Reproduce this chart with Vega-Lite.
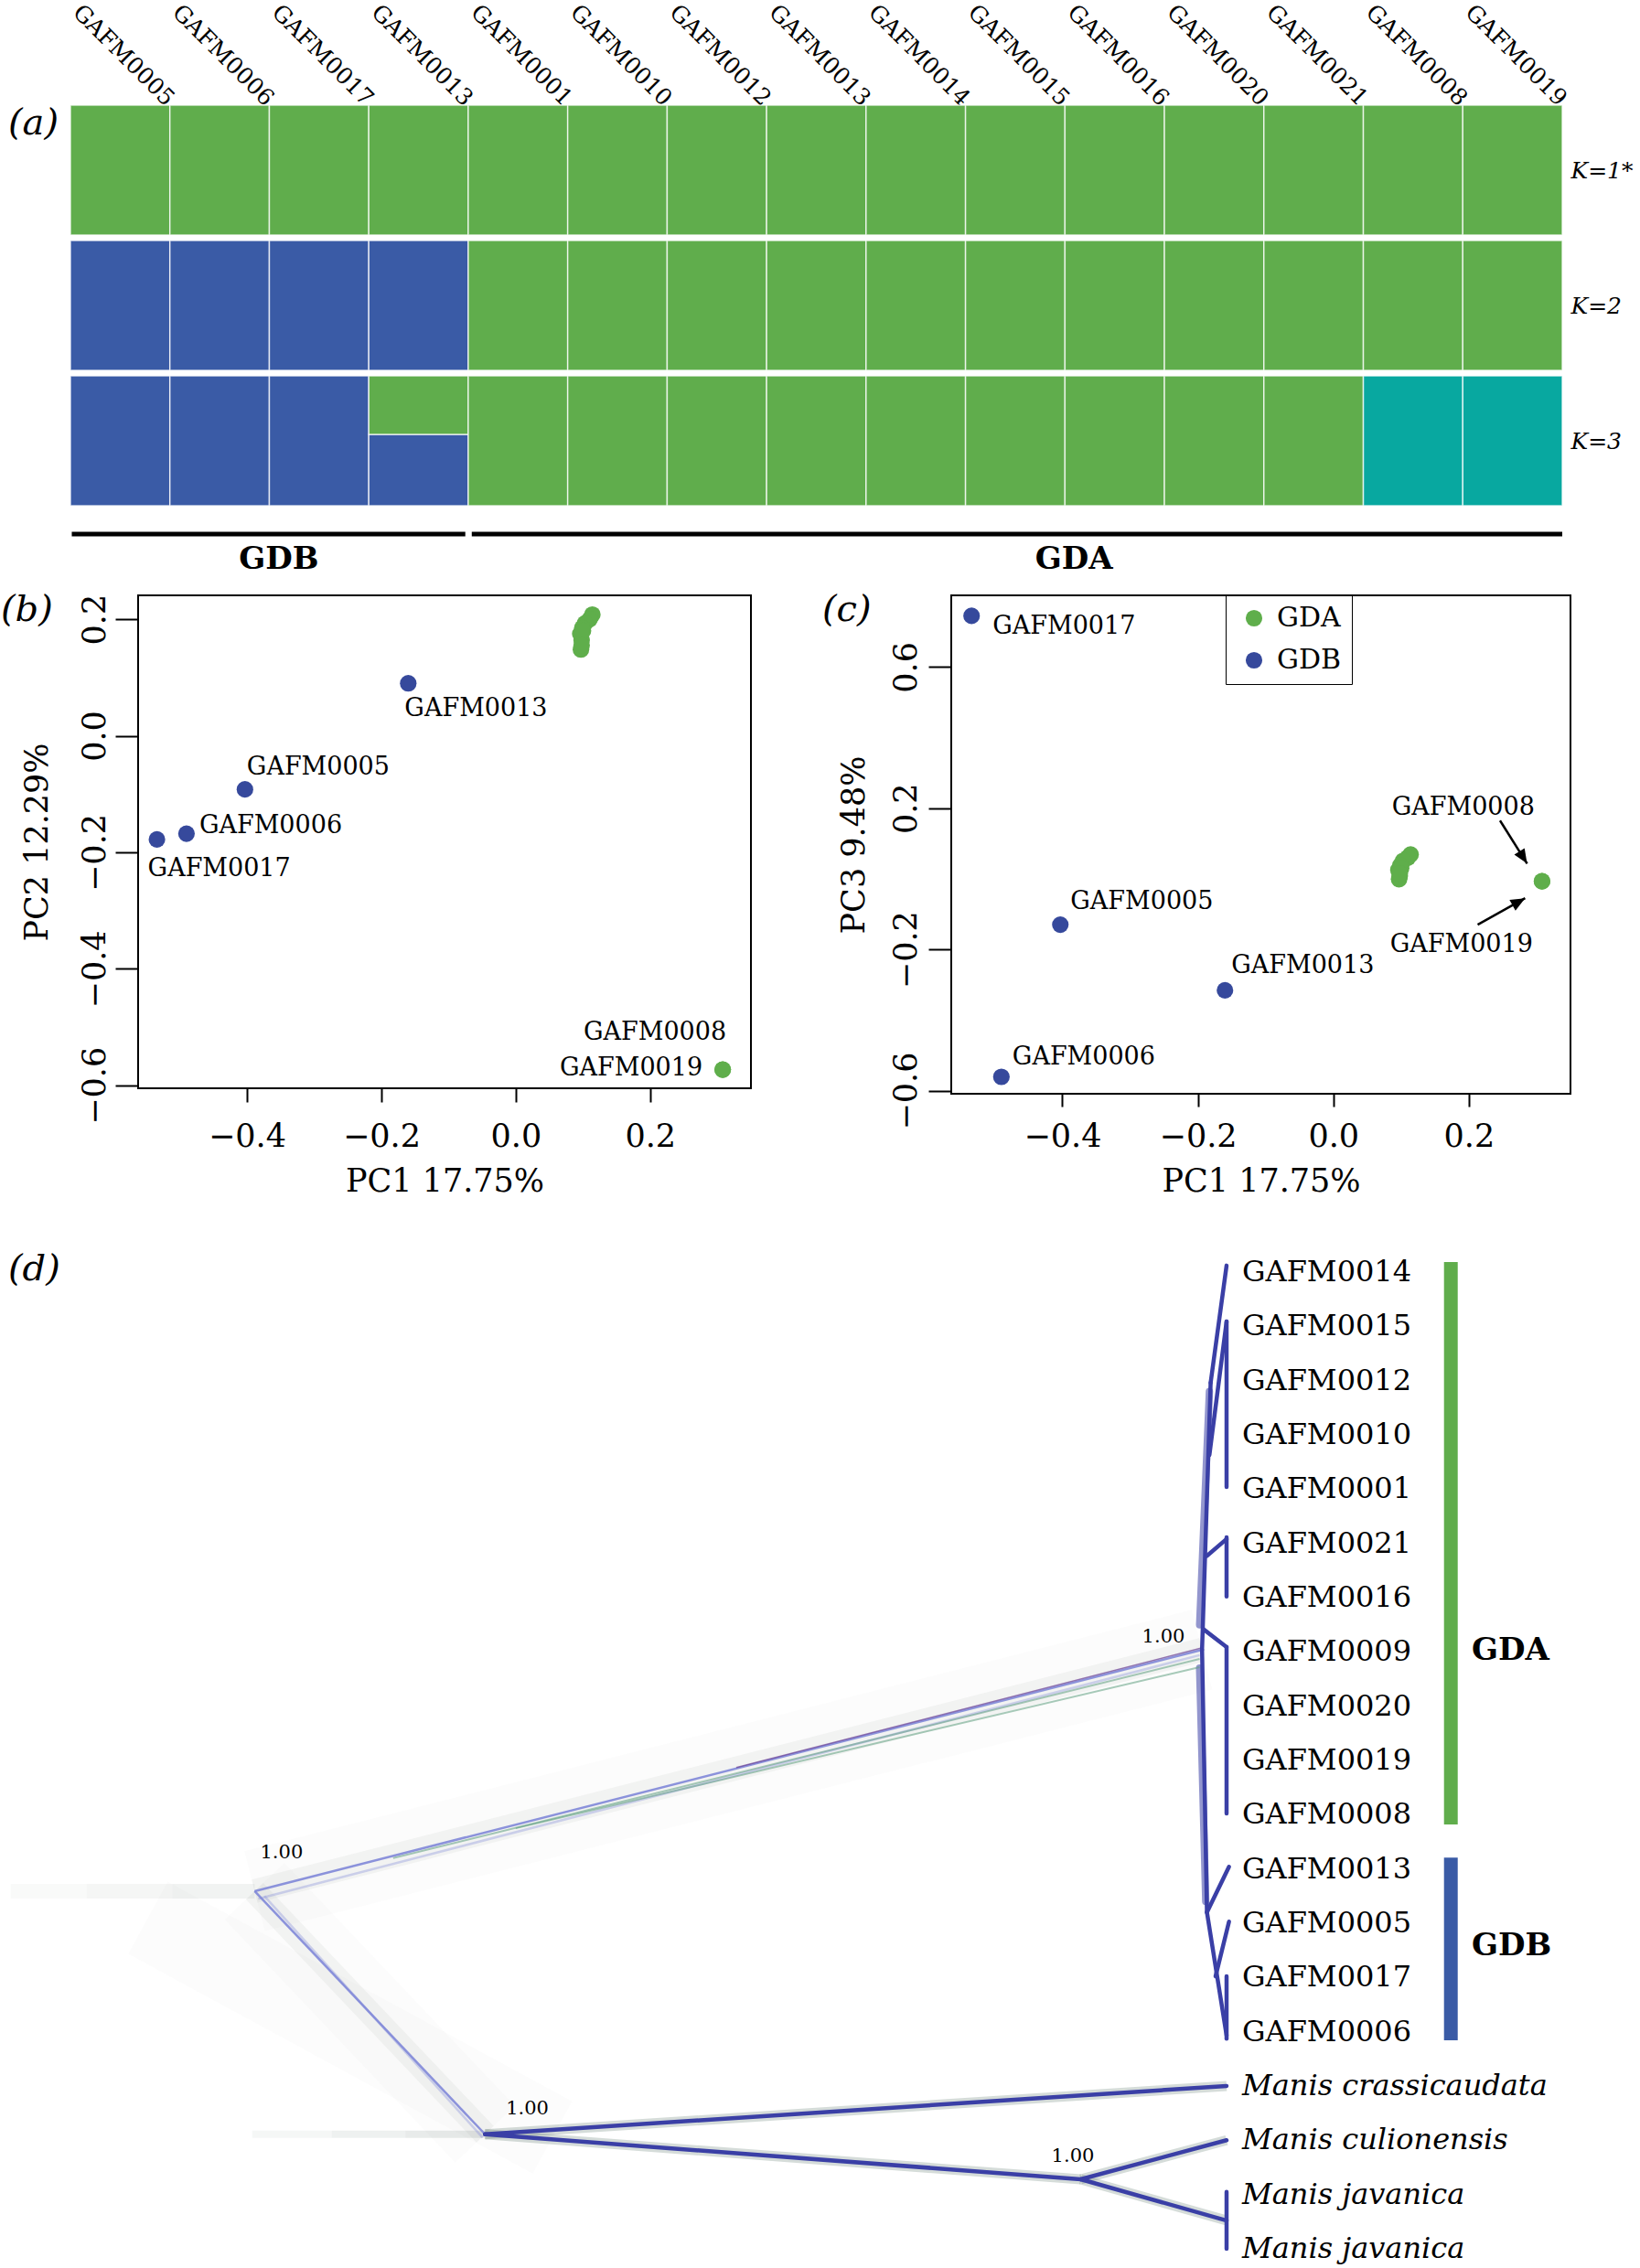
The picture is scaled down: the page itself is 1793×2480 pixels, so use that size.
{
  "$schema": "https://vega.github.io/schema/vega-lite/v6.json",
  "padding": 0,
  "background": "white",
  "spacing": 12,
  "resolve": {"scale": {"color": "independent"}},
  "config": {
    "view": {"stroke": null},
    "font": "DejaVu Serif",
    "axis": {"labelColor": "black", "titleColor": "black", "tickColor": "black", "domainColor": "black", "grid": false, "labelFont": "DejaVu Serif", "titleFont": "DejaVu Serif", "titleFontWeight": "normal"},
    "title": {"font": "DejaVu Serif", "fontStyle": "italic", "fontWeight": "normal", "fontSize": 40, "color": "black", "anchor": "start", "frame": "group", "offset": 0, "baseline": "top"},
    "legend": {"labelFont": "DejaVu Serif", "labelColor": "black"}
  },
  "datasets": {
    "structure": [
      {"K": "K=1*", "col": 1, "sample": "GAFM0005", "cluster": "Cluster 2", "q": 1},
      {"K": "K=1*", "col": 2, "sample": "GAFM0006", "cluster": "Cluster 2", "q": 1},
      {"K": "K=1*", "col": 3, "sample": "GAFM0017", "cluster": "Cluster 2", "q": 1},
      {"K": "K=1*", "col": 4, "sample": "GAFM0013", "cluster": "Cluster 2", "q": 1},
      {"K": "K=1*", "col": 5, "sample": "GAFM0001", "cluster": "Cluster 2", "q": 1},
      {"K": "K=1*", "col": 6, "sample": "GAFM0010", "cluster": "Cluster 2", "q": 1},
      {"K": "K=1*", "col": 7, "sample": "GAFM0012", "cluster": "Cluster 2", "q": 1},
      {"K": "K=1*", "col": 8, "sample": "GAFM0013", "cluster": "Cluster 2", "q": 1},
      {"K": "K=1*", "col": 9, "sample": "GAFM0014", "cluster": "Cluster 2", "q": 1},
      {"K": "K=1*", "col": 10, "sample": "GAFM0015", "cluster": "Cluster 2", "q": 1},
      {"K": "K=1*", "col": 11, "sample": "GAFM0016", "cluster": "Cluster 2", "q": 1},
      {"K": "K=1*", "col": 12, "sample": "GAFM0020", "cluster": "Cluster 2", "q": 1},
      {"K": "K=1*", "col": 13, "sample": "GAFM0021", "cluster": "Cluster 2", "q": 1},
      {"K": "K=1*", "col": 14, "sample": "GAFM0008", "cluster": "Cluster 2", "q": 1},
      {"K": "K=1*", "col": 15, "sample": "GAFM0019", "cluster": "Cluster 2", "q": 1},
      {"K": "K=2", "col": 1, "sample": "GAFM0005", "cluster": "Cluster 1", "q": 1},
      {"K": "K=2", "col": 2, "sample": "GAFM0006", "cluster": "Cluster 1", "q": 1},
      {"K": "K=2", "col": 3, "sample": "GAFM0017", "cluster": "Cluster 1", "q": 1},
      {"K": "K=2", "col": 4, "sample": "GAFM0013", "cluster": "Cluster 1", "q": 1},
      {"K": "K=2", "col": 5, "sample": "GAFM0001", "cluster": "Cluster 2", "q": 1},
      {"K": "K=2", "col": 6, "sample": "GAFM0010", "cluster": "Cluster 2", "q": 1},
      {"K": "K=2", "col": 7, "sample": "GAFM0012", "cluster": "Cluster 2", "q": 1},
      {"K": "K=2", "col": 8, "sample": "GAFM0013", "cluster": "Cluster 2", "q": 1},
      {"K": "K=2", "col": 9, "sample": "GAFM0014", "cluster": "Cluster 2", "q": 1},
      {"K": "K=2", "col": 10, "sample": "GAFM0015", "cluster": "Cluster 2", "q": 1},
      {"K": "K=2", "col": 11, "sample": "GAFM0016", "cluster": "Cluster 2", "q": 1},
      {"K": "K=2", "col": 12, "sample": "GAFM0020", "cluster": "Cluster 2", "q": 1},
      {"K": "K=2", "col": 13, "sample": "GAFM0021", "cluster": "Cluster 2", "q": 1},
      {"K": "K=2", "col": 14, "sample": "GAFM0008", "cluster": "Cluster 2", "q": 1},
      {"K": "K=2", "col": 15, "sample": "GAFM0019", "cluster": "Cluster 2", "q": 1},
      {"K": "K=3", "col": 1, "sample": "GAFM0005", "cluster": "Cluster 1", "q": 1},
      {"K": "K=3", "col": 2, "sample": "GAFM0006", "cluster": "Cluster 1", "q": 1},
      {"K": "K=3", "col": 3, "sample": "GAFM0017", "cluster": "Cluster 1", "q": 1},
      {"K": "K=3", "col": 4, "sample": "GAFM0013", "cluster": "Cluster 1", "q": 0.55},
      {"K": "K=3", "col": 4, "sample": "GAFM0013", "cluster": "Cluster 2", "q": 0.45},
      {"K": "K=3", "col": 5, "sample": "GAFM0001", "cluster": "Cluster 2", "q": 1},
      {"K": "K=3", "col": 6, "sample": "GAFM0010", "cluster": "Cluster 2", "q": 1},
      {"K": "K=3", "col": 7, "sample": "GAFM0012", "cluster": "Cluster 2", "q": 1},
      {"K": "K=3", "col": 8, "sample": "GAFM0013", "cluster": "Cluster 2", "q": 1},
      {"K": "K=3", "col": 9, "sample": "GAFM0014", "cluster": "Cluster 2", "q": 1},
      {"K": "K=3", "col": 10, "sample": "GAFM0015", "cluster": "Cluster 2", "q": 1},
      {"K": "K=3", "col": 11, "sample": "GAFM0016", "cluster": "Cluster 2", "q": 1},
      {"K": "K=3", "col": 12, "sample": "GAFM0020", "cluster": "Cluster 2", "q": 1},
      {"K": "K=3", "col": 13, "sample": "GAFM0021", "cluster": "Cluster 2", "q": 1},
      {"K": "K=3", "col": 14, "sample": "GAFM0008", "cluster": "Cluster 3", "q": 1},
      {"K": "K=3", "col": 15, "sample": "GAFM0019", "cluster": "Cluster 3", "q": 1}
    ],
    "pca": [
      {"id": "GAFM0005", "group": "GDB", "pc1": -0.403, "pc2": -0.092, "pc3": -0.130},
      {"id": "GAFM0006", "group": "GDB", "pc1": -0.490, "pc2": -0.168, "pc3": -0.561},
      {"id": "GAFM0017", "group": "GDB", "pc1": -0.534, "pc2": -0.178, "pc3": 0.745},
      {"id": "GAFM0013", "group": "GDB", "pc1": -0.160, "pc2": 0.090, "pc3": -0.316},
      {"id": "GAFM0008", "group": "GDA", "pc1": 0.308, "pc2": -0.573, "pc3": -0.007},
      {"id": "GAFM0019", "group": "GDA", "pc1": 0.308, "pc2": -0.573, "pc3": -0.007},
      {"id": "GAFM0001", "group": "GDA", "pc1": 0.114, "pc2": 0.208, "pc3": 0.069},
      {"id": "GAFM0010", "group": "GDA", "pc1": 0.110, "pc2": 0.200, "pc3": 0.060},
      {"id": "GAFM0012", "group": "GDA", "pc1": 0.103, "pc2": 0.193, "pc3": 0.051},
      {"id": "GAFM0009", "group": "GDA", "pc1": 0.099, "pc2": 0.185, "pc3": 0.038},
      {"id": "GAFM0014", "group": "GDA", "pc1": 0.096, "pc2": 0.175, "pc3": 0.025},
      {"id": "GAFM0015", "group": "GDA", "pc1": 0.098, "pc2": 0.164, "pc3": 0.008},
      {"id": "GAFM0016", "group": "GDA", "pc1": 0.097, "pc2": 0.148, "pc3": -0.001},
      {"id": "GAFM0020", "group": "GDA", "pc1": 0.100, "pc2": 0.180, "pc3": 0.030},
      {"id": "GAFM0021", "group": "GDA", "pc1": 0.098, "pc2": 0.155, "pc3": 0.015}
    ],
    "arrows": [
      {"target": "GAFM0008", "pc1": 0.246, "pc3": 0.165, "pc1_end": 0.286, "pc3_end": 0.043},
      {"target": "GAFM0019", "pc1": 0.213, "pc3": -0.130, "pc1_end": 0.283, "pc3_end": -0.055}
    ],
    "arrowheads": [
      {"target": "GAFM0008", "pc1": 0.286, "pc3": 0.043},
      {"target": "GAFM0019", "pc1": 0.283, "pc3": -0.055}
    ],
    "tree": [
      {"kind": "hazeWide", "x": 0.207, "y": 11.41, "x2": 0.980, "y2": 6.96},
      {"kind": "hazeWide", "x": 0.207, "y": 11.41, "x2": 0.395, "y2": 15.89},
      {"kind": "hazeWide", "x": 0.12, "y": 11.9, "x2": 0.45, "y2": 15.95},
      {"kind": "hazeMed", "x": 0.207, "y": 11.41, "x2": 0.980, "y2": 6.96},
      {"kind": "hazeMed", "x": 0.207, "y": 11.41, "x2": 0.395, "y2": 15.89},
      {"kind": "stem", "fade": 1, "x": 0.008, "y": 11.41, "x2": 0.07, "y2": 11.41},
      {"kind": "stem", "fade": 2, "x": 0.07, "y": 11.41, "x2": 0.14, "y2": 11.41},
      {"kind": "stem", "fade": 3, "x": 0.14, "y": 11.41, "x2": 0.207, "y2": 11.41},
      {"kind": "ostem", "fade": 1, "x": 0.205, "y": 15.89, "x2": 0.27, "y2": 15.89},
      {"kind": "ostem", "fade": 2, "x": 0.27, "y": 15.89, "x2": 0.33, "y2": 15.89},
      {"kind": "ostem", "fade": 3, "x": 0.33, "y": 15.89, "x2": 0.395, "y2": 15.89},
      {"kind": "darkHaze", "x": 0.395, "y": 15.89, "x2": 1.0, "y2": 15.0},
      {"kind": "darkHaze", "x": 0.395, "y": 15.89, "x2": 0.881, "y2": 16.72},
      {"kind": "darkHaze", "x": 0.881, "y": 16.72, "x2": 1.0, "y2": 16.0},
      {"kind": "darkHaze", "x": 0.881, "y": 16.72, "x2": 1.0, "y2": 17.48},
      {"kind": "blueHaze", "x": 0.978, "y": 6.5, "x2": 0.986, "y2": 2.2},
      {"kind": "blueHaze", "x": 0.978, "y": 7.3, "x2": 0.983, "y2": 11.6},
      {"kind": "light2", "x": 0.21, "y": 11.55, "x2": 0.978, "y2": 7.06},
      {"kind": "light2", "x": 0.215, "y": 11.5, "x2": 0.393, "y2": 15.95},
      {"kind": "green", "x": 0.32, "y": 10.80, "x2": 0.978, "y2": 7.13},
      {"kind": "green", "x": 0.42, "y": 10.25, "x2": 0.978, "y2": 7.28},
      {"kind": "light", "x": 0.207, "y": 11.41, "x2": 0.980, "y2": 6.96},
      {"kind": "light", "x": 0.207, "y": 11.41, "x2": 0.395, "y2": 15.89},
      {"kind": "purple", "x": 0.60, "y": 9.13, "x2": 0.981, "y2": 6.92},
      {"kind": "dark", "x": 0.980, "y": 6.96, "x2": 0.987, "y2": 2.04},
      {"kind": "dark", "x": 0.980, "y": 6.96, "x2": 0.984, "y2": 11.80},
      {"kind": "dark", "x": 0.987, "y": 2.04, "x2": 1.0, "y2": -0.12},
      {"kind": "dark", "x": 0.986, "y": 3.37, "x2": 1.0, "y2": 0.91},
      {"kind": "dark", "x": 1.0, "y": 0.91, "x2": 1.0, "y2": 3.96},
      {"kind": "dark", "x": 0.984, "y": 5.23, "x2": 1.0, "y2": 4.92},
      {"kind": "dark", "x": 1.0, "y": 4.89, "x2": 1.0, "y2": 5.98},
      {"kind": "dark", "x": 0.981, "y": 6.58, "x2": 1.0, "y2": 6.91},
      {"kind": "dark", "x": 1.0, "y": 6.91, "x2": 1.0, "y2": 9.98},
      {"kind": "dark", "x": 0.984, "y": 11.80, "x2": 1.002, "y2": 10.96},
      {"kind": "dark", "x": 0.984, "y": 11.80, "x2": 1.0, "y2": 14.07},
      {"kind": "dark", "x": 0.991, "y": 12.98, "x2": 1.002, "y2": 11.97},
      {"kind": "dark", "x": 1.0, "y": 12.98, "x2": 1.0, "y2": 14.13},
      {"kind": "dark", "x": 0.395, "y": 15.89, "x2": 1.0, "y2": 15.0},
      {"kind": "dark", "x": 0.395, "y": 15.89, "x2": 0.881, "y2": 16.72},
      {"kind": "dark", "x": 0.881, "y": 16.72, "x2": 1.0, "y2": 16.0},
      {"kind": "dark", "x": 0.881, "y": 16.72, "x2": 1.0, "y2": 17.48},
      {"kind": "dark", "x": 1.0, "y": 16.95, "x2": 1.0, "y2": 18.0}
    ],
    "tips": [
      {"label": "GAFM0014", "x": 1.0, "y": 0, "kind": "sample"},
      {"label": "GAFM0015", "x": 1.0, "y": 1, "kind": "sample"},
      {"label": "GAFM0012", "x": 1.0, "y": 2, "kind": "sample"},
      {"label": "GAFM0010", "x": 1.0, "y": 3, "kind": "sample"},
      {"label": "GAFM0001", "x": 1.0, "y": 4, "kind": "sample"},
      {"label": "GAFM0021", "x": 1.0, "y": 5, "kind": "sample"},
      {"label": "GAFM0016", "x": 1.0, "y": 6, "kind": "sample"},
      {"label": "GAFM0009", "x": 1.0, "y": 7, "kind": "sample"},
      {"label": "GAFM0020", "x": 1.0, "y": 8, "kind": "sample"},
      {"label": "GAFM0019", "x": 1.0, "y": 9, "kind": "sample"},
      {"label": "GAFM0008", "x": 1.0, "y": 10, "kind": "sample"},
      {"label": "GAFM0013", "x": 1.0, "y": 11, "kind": "sample"},
      {"label": "GAFM0005", "x": 1.0, "y": 12, "kind": "sample"},
      {"label": "GAFM0017", "x": 1.0, "y": 13, "kind": "sample"},
      {"label": "GAFM0006", "x": 1.0, "y": 14, "kind": "sample"},
      {"label": "Manis crassicaudata", "x": 1.0, "y": 15, "kind": "species"},
      {"label": "Manis culionensis", "x": 1.0, "y": 16, "kind": "species"},
      {"label": "Manis javanica", "x": 1.0, "y": 17, "kind": "species"},
      {"label": "Manis javanica", "x": 1.0, "y": 18, "kind": "species"}
    ],
    "clades": [
      {"clade": "GDA", "x": 1.183, "xl": 1.2, "y": -0.185, "y2": 10.18, "ymid": 6.98},
      {"clade": "GDB", "x": 1.183, "xl": 1.2, "y": 10.79, "y2": 14.16, "ymid": 12.42}
    ],
    "support": [
      {"x": 0.229, "y": 10.71, "pp": 1},
      {"x": 0.4295, "y": 15.42, "pp": 1},
      {"x": 0.8746, "y": 16.3, "pp": 1},
      {"x": 0.9485, "y": 6.725, "pp": 1}
    ]
  },
  "vconcat": [
    {
      "spacing": 4,
      "vconcat": [
        {
          "width": 1557, "height": 142,
          "data": {"name": "structure"},
          "transform": [{"filter": "datum.K == 'K=1*'"}],
          "title": {"text": "(a)", "dx": -142, "dy": 159},
          "mark": {"type": "bar", "stroke": "white", "strokeWidth": 1.5, "strokeOpacity": 0.75},
          "encoding": {
            "x": {"field": "col", "type": "ordinal", "scale": {"paddingInner": 0, "paddingOuter": 0, "range": [-74, 1557]},
                  "axis": {"orient": "top", "title": null, "labelExpr": "['GAFM0005','GAFM0006','GAFM0017','GAFM0013','GAFM0001','GAFM0010','GAFM0012','GAFM0013','GAFM0014','GAFM0015','GAFM0016','GAFM0020','GAFM0021','GAFM0008','GAFM0019'][datum.value - 1]",
                           "labelAngle": 45, "labelAlign": "right", "labelBaseline": "middle", "labelFontSize": 25, "labelPadding": 4, "labelOffset": 55, "ticks": false, "tickSize": 0, "domain": false, "labelOverlap": false}},
            "y": {"field": "q", "type": "quantitative", "stack": "zero", "scale": {"domain": [0, 1], "nice": false},
                  "axis": {"orient": "right", "title": "K=1*", "labels": false, "ticks": false, "domain": false, "titleAngle": 0, "titleAlign": "left", "titleBaseline": "middle", "titlePadding": 9, "titleFontStyle": "italic", "titleFontSize": 25}},
            "color": {"field": "cluster", "type": "nominal", "scale": {"domain": ["Cluster 1", "Cluster 2", "Cluster 3"], "range": ["#3A5BA6", "#60AD4C", "#08A8A0"]}, "legend": null},
            "order": {"field": "cluster", "sort": "ascending"}
          }
        },
        {
          "width": 1557, "height": 142,
          "data": {"name": "structure"},
          "transform": [{"filter": "datum.K == 'K=2'"}],
          "mark": {"type": "bar", "stroke": "white", "strokeWidth": 1.5, "strokeOpacity": 0.75},
          "encoding": {
            "x": {"field": "col", "type": "ordinal", "scale": {"paddingInner": 0, "paddingOuter": 0, "range": [-74, 1557]}, "axis": null},
            "y": {"field": "q", "type": "quantitative", "stack": "zero", "scale": {"domain": [0, 1], "nice": false},
                  "axis": {"orient": "right", "title": "K=2", "labels": false, "ticks": false, "domain": false, "titleAngle": 0, "titleAlign": "left", "titleBaseline": "middle", "titlePadding": 9, "titleFontStyle": "italic", "titleFontSize": 25}},
            "color": {"field": "cluster", "type": "nominal", "scale": {"domain": ["Cluster 1", "Cluster 2", "Cluster 3"], "range": ["#3A5BA6", "#60AD4C", "#08A8A0"]}, "legend": null},
            "order": {"field": "cluster", "sort": "ascending"}
          }
        },
        {
          "width": 1557, "height": 142,
          "data": {"name": "structure"},
          "transform": [{"filter": "datum.K == 'K=3'"}],
          "mark": {"type": "bar", "stroke": "white", "strokeWidth": 1.5, "strokeOpacity": 0.75},
          "encoding": {
            "x": {"field": "col", "type": "ordinal", "scale": {"paddingInner": 0, "paddingOuter": 0, "range": [-74, 1557]}, "axis": null},
            "y": {"field": "q", "type": "quantitative", "stack": "zero", "scale": {"domain": [0, 1], "nice": false},
                  "axis": {"orient": "right", "title": "K=3", "labels": false, "ticks": false, "domain": false, "titleAngle": 0, "titleAlign": "left", "titleBaseline": "middle", "titlePadding": 9, "titleFontStyle": "italic", "titleFontSize": 25}},
            "color": {"field": "cluster", "type": "nominal", "scale": {"domain": ["Cluster 1", "Cluster 2", "Cluster 3"], "range": ["#3A5BA6", "#60AD4C", "#08A8A0"]}, "legend": null},
            "order": {"field": "cluster", "sort": "ascending"}
          }
        },
        {
          "width": 1557, "height": 75,
          "data": {"values": [
            {"group": "GDB", "start": 0.013, "end": 3.97, "mid": 2.096},
            {"group": "GDA", "start": 4.035, "end": 15, "mid": 10.09}
          ]},
          "layer": [
            {"mark": {"type": "rule", "strokeWidth": 5, "color": "black"},
             "encoding": {
               "x": {"field": "start", "type": "quantitative", "scale": {"domain": [0.68, 15], "nice": false, "zero": false}, "axis": null},
               "x2": {"field": "end"},
               "y": {"datum": 0.653, "type": "quantitative", "scale": {"domain": [0, 1], "nice": false}, "axis": null}
             }},
            {"mark": {"type": "text", "fontWeight": "bold", "fontSize": 34, "baseline": "middle", "align": "center", "font": "DejaVu Serif"},
             "encoding": {
               "x": {"field": "mid", "type": "quantitative"},
               "y": {"datum": 0.28, "type": "quantitative"},
               "text": {"field": "group"}
             }}
          ]
        }
      ]
    },
    {
      "spacing": 76,
      "resolve": {"scale": {"color": "independent"}},
      "hconcat": [
        {
          "width": 670, "height": 539,
          "view": {"stroke": "black", "strokeWidth": 2},
          "title": {"text": "(b)", "dx": -150, "dy": 42},
          "data": {"name": "pca"},
          "encoding": {
            "x": {"field": "pc1", "type": "quantitative", "scale": {"domain": [-0.562, 0.35], "nice": false, "zero": false},
                  "axis": {"title": "PC1 17.75%", "values": [-0.4, -0.2, 0, 0.2], "format": ".1f", "tickSize": 15, "tickWidth": 2, "labelPadding": 20, "labelFontSize": 35, "titleFontSize": 35, "titlePadding": 14, "domain": false, "labelFlush": false, "labelOverlap": false}},
            "y": {"field": "pc2", "type": "quantitative", "scale": {"domain": [-0.605, 0.241], "nice": false, "zero": false},
                  "axis": {"title": "PC2 12.29%", "values": [-0.6, -0.4, -0.2, 0, 0.2], "format": ".1f", "tickSize": 25, "tickWidth": 2, "labelAngle": 270, "labelAlign": "center", "labelBaseline": "bottom", "labelPadding": 5, "labelFontSize": 35, "titleFontSize": 35, "titlePadding": 28, "domain": false, "labelFlush": false, "labelOverlap": false}}
          },
          "layer": [
            {"mark": {"type": "circle", "size": 330, "opacity": 1},
             "encoding": {"color": {"field": "group", "type": "nominal", "scale": {"domain": ["GDA", "GDB"], "range": ["#5FAE4B", "#36499C"]}, "legend": null}}},
            {"transform": [{"filter": "datum.id == 'GAFM0017'"}], "mark": {"type": "text", "align": "left", "baseline": "middle", "dx": -10, "dy": 32, "fontSize": 27}, "encoding": {"text": {"field": "id"}}},
            {"transform": [{"filter": "datum.id == 'GAFM0006'"}], "mark": {"type": "text", "align": "left", "baseline": "middle", "dx": 14, "dy": -9, "fontSize": 27}, "encoding": {"text": {"field": "id"}}},
            {"transform": [{"filter": "datum.id == 'GAFM0005'"}], "mark": {"type": "text", "align": "left", "baseline": "middle", "dx": 2, "dy": -24, "fontSize": 27}, "encoding": {"text": {"field": "id"}}},
            {"transform": [{"filter": "datum.id == 'GAFM0013'"}], "mark": {"type": "text", "align": "left", "baseline": "middle", "dx": -4, "dy": 28, "fontSize": 27}, "encoding": {"text": {"field": "id"}}},
            {"transform": [{"filter": "datum.id == 'GAFM0008'"}], "mark": {"type": "text", "align": "right", "baseline": "middle", "dx": 4, "dy": -41, "fontSize": 27}, "encoding": {"text": {"field": "id"}}},
            {"transform": [{"filter": "datum.id == 'GAFM0019'"}], "mark": {"type": "text", "align": "right", "baseline": "middle", "dx": -22, "dy": -2, "fontSize": 27}, "encoding": {"text": {"field": "id"}}}
          ]
        },
        {
          "width": 677, "height": 545,
          "view": {"stroke": "black", "strokeWidth": 2},
          "title": {"text": "(c)", "dx": -141, "dy": 41},
          "data": {"name": "pca"},
          "encoding": {
            "x": {"field": "pc1", "type": "quantitative", "scale": {"domain": [-0.564, 0.35], "nice": false, "zero": false},
                  "axis": {"title": "PC1 17.75%", "values": [-0.4, -0.2, 0, 0.2], "format": ".1f", "tickSize": 14, "tickWidth": 2, "labelPadding": 15, "labelFontSize": 35, "titleFontSize": 35, "titlePadding": 14, "domain": false, "labelFlush": false, "labelOverlap": false}},
            "y": {"field": "pc3", "type": "quantitative", "scale": {"domain": [-0.609, 0.803], "nice": false, "zero": false},
                  "axis": {"title": "PC3 9.48%", "values": [-0.6, -0.2, 0.2, 0.6], "format": ".1f", "tickSize": 25, "tickWidth": 2, "labelAngle": 270, "labelAlign": "center", "labelBaseline": "bottom", "labelPadding": 7, "labelFontSize": 35, "titleFontSize": 35, "titlePadding": 22, "domain": false, "labelFlush": false, "labelOverlap": false}}
          },
          "layer": [
            {"mark": {"type": "circle", "size": 330, "opacity": 1},
             "encoding": {"color": {"field": "group", "type": "nominal", "scale": {"domain": ["GDA", "GDB"], "range": ["#5FAE4B", "#36499C"]},
                                    "legend": {"orient": "none", "legendX": 300, "legendY": -1, "title": null, "padding": 11, "strokeColor": "black", "symbolSize": 330, "symbolType": "circle", "symbolOffset": 5, "labelFontSize": 30, "rowPadding": 16, "labelOffset": 10, "symbolStrokeWidth": 0}}}},
            {"data": {"name": "arrows"}, "mark": {"type": "rule", "strokeWidth": 2.5, "color": "black"},
             "encoding": {"x2": {"field": "pc1_end"}, "y2": {"field": "pc3_end"}}},
            {"data": {"name": "arrowheads"}, "transform": [{"filter": "datum.target == 'GAFM0008'"}],
             "mark": {"type": "point", "shape": "M0,0L-0.42,1L0.42,1Z", "filled": true, "color": "black", "opacity": 1, "size": 1000, "angle": 147.7}},
            {"data": {"name": "arrowheads"}, "transform": [{"filter": "datum.target == 'GAFM0019'"}],
             "mark": {"type": "point", "shape": "M0,0L-0.42,1L0.42,1Z", "filled": true, "color": "black", "opacity": 1, "size": 1000, "angle": 60.7}},
            {"transform": [{"filter": "datum.id == 'GAFM0017'"}], "mark": {"type": "text", "align": "left", "baseline": "middle", "dx": 23, "dy": 12, "fontSize": 27}, "encoding": {"text": {"field": "id"}}},
            {"transform": [{"filter": "datum.id == 'GAFM0005'"}], "mark": {"type": "text", "align": "left", "baseline": "middle", "dx": 11, "dy": -25, "fontSize": 27}, "encoding": {"text": {"field": "id"}}},
            {"transform": [{"filter": "datum.id == 'GAFM0013'"}], "mark": {"type": "text", "align": "left", "baseline": "middle", "dx": 7, "dy": -27, "fontSize": 27}, "encoding": {"text": {"field": "id"}}},
            {"transform": [{"filter": "datum.id == 'GAFM0006'"}], "mark": {"type": "text", "align": "left", "baseline": "middle", "dx": 12, "dy": -21, "fontSize": 27}, "encoding": {"text": {"field": "id"}}},
            {"transform": [{"filter": "datum.id == 'GAFM0008'"}], "mark": {"type": "text", "align": "right", "baseline": "middle", "dx": -8, "dy": -81, "fontSize": 27}, "encoding": {"text": {"field": "id"}}},
            {"transform": [{"filter": "datum.id == 'GAFM0019'"}], "mark": {"type": "text", "align": "right", "baseline": "middle", "dx": -10, "dy": 69, "fontSize": 27}, "encoding": {"text": {"field": "id"}}}
          ]
        }
      ]
    },
    {
      "width": 1643, "height": 1159,
      "title": {"text": "(d)", "dx": -142, "dy": 90},
      "encoding": {
        "x": {"field": "x", "type": "quantitative", "scale": {"domain": [0.11194, 1.33806], "nice": false, "zero": false}, "axis": null},
        "y": {"field": "y", "type": "quantitative", "scale": {"domain": [-1.163, 18.372], "nice": false, "zero": false, "reverse": true}, "axis": null}
      },
      "layer": [
        {"data": {"name": "tree"}, "transform": [{"filter": "datum.kind == 'hazeWide'"}],
         "mark": {"type": "rule", "strokeWidth": 90, "color": "#9DAA9E", "opacity": 0.035}, "encoding": {"x2": {"field": "x2"}, "y2": {"field": "y2"}}},
        {"data": {"name": "tree"}, "transform": [{"filter": "datum.kind == 'hazeMed'"}],
         "mark": {"type": "rule", "strokeWidth": 26, "color": "#8E9C90", "opacity": 0.09}, "encoding": {"x2": {"field": "x2"}, "y2": {"field": "y2"}}},
        {"data": {"name": "tree"}, "transform": [{"filter": "datum.kind == 'stem'"}],
         "mark": {"type": "rule", "strokeWidth": 16, "color": "#8E9C90"},
         "encoding": {"x2": {"field": "x2"}, "y2": {"field": "y2"}, "opacity": {"field": "fade", "type": "ordinal", "scale": {"domain": [1, 2, 3], "range": [0.05, 0.12, 0.2]}, "legend": null}}},
        {"data": {"name": "tree"}, "transform": [{"filter": "datum.kind == 'ostem'"}],
         "mark": {"type": "rule", "strokeWidth": 8, "color": "#3E5E50"},
         "encoding": {"x2": {"field": "x2"}, "y2": {"field": "y2"}, "opacity": {"field": "fade", "type": "ordinal", "scale": {"domain": [1, 2, 3], "range": [0.05, 0.14, 0.3]}, "legend": null}}},
        {"data": {"name": "tree"}, "transform": [{"filter": "datum.kind == 'darkHaze'"}],
         "mark": {"type": "rule", "strokeWidth": 11, "color": "#3E5E50", "opacity": 0.22}, "encoding": {"x2": {"field": "x2"}, "y2": {"field": "y2"}}},
        {"data": {"name": "tree"}, "transform": [{"filter": "datum.kind == 'blueHaze'"}],
         "mark": {"type": "rule", "strokeWidth": 8, "color": "#3A3FA6", "opacity": 0.55, "strokeCap": "round"}, "encoding": {"x2": {"field": "x2"}, "y2": {"field": "y2"}}},
        {"data": {"name": "tree"}, "transform": [{"filter": "datum.kind == 'light2'"}],
         "mark": {"type": "rule", "strokeWidth": 2.5, "color": "#8F97DC", "opacity": 0.4}, "encoding": {"x2": {"field": "x2"}, "y2": {"field": "y2"}}},
        {"data": {"name": "tree"}, "transform": [{"filter": "datum.kind == 'green'"}],
         "mark": {"type": "rule", "strokeWidth": 2, "color": "#5E9F80", "opacity": 0.55}, "encoding": {"x2": {"field": "x2"}, "y2": {"field": "y2"}}},
        {"data": {"name": "tree"}, "transform": [{"filter": "datum.kind == 'light'"}],
         "mark": {"type": "rule", "strokeWidth": 2.5, "color": "#7F87D8", "opacity": 0.9}, "encoding": {"x2": {"field": "x2"}, "y2": {"field": "y2"}}},
        {"data": {"name": "tree"}, "transform": [{"filter": "datum.kind == 'purple'"}],
         "mark": {"type": "rule", "strokeWidth": 1.5, "color": "#6A3E93", "opacity": 0.7}, "encoding": {"x2": {"field": "x2"}, "y2": {"field": "y2"}}},
        {"data": {"name": "tree"}, "transform": [{"filter": "datum.kind == 'dark'"}],
         "mark": {"type": "rule", "strokeWidth": 4.5, "color": "#3A3FA6", "strokeCap": "round"}, "encoding": {"x2": {"field": "x2"}, "y2": {"field": "y2"}}},
        {"data": {"name": "clades"},
         "mark": {"type": "rule", "strokeWidth": 15},
         "encoding": {"y2": {"field": "y2"},
                      "color": {"field": "clade", "type": "nominal", "scale": {"domain": ["GDA", "GDB"], "range": ["#60AD4C", "#3A5BA6"]}, "legend": null}}},
        {"data": {"name": "clades"},
         "mark": {"type": "text", "align": "left", "baseline": "middle", "fontWeight": "bold", "fontSize": 34},
         "encoding": {"x": {"field": "xl", "type": "quantitative"}, "y": {"field": "ymid", "type": "quantitative"}, "text": {"field": "clade"}}},
        {"data": {"name": "tips"}, "transform": [{"filter": "datum.kind == 'sample'"}],
         "mark": {"type": "text", "align": "left", "baseline": "middle", "dx": 17, "fontSize": 32},
         "encoding": {"text": {"field": "label"}}},
        {"data": {"name": "tips"}, "transform": [{"filter": "datum.kind == 'species'"}],
         "mark": {"type": "text", "align": "left", "baseline": "middle", "dx": 17, "fontSize": 32, "fontStyle": "italic"},
         "encoding": {"text": {"field": "label"}}},
        {"data": {"name": "support"},
         "mark": {"type": "text", "align": "center", "baseline": "middle", "fontSize": 21},
         "encoding": {"text": {"field": "pp", "type": "quantitative", "format": ".2f"}}}
      ]
    }
  ]
}
